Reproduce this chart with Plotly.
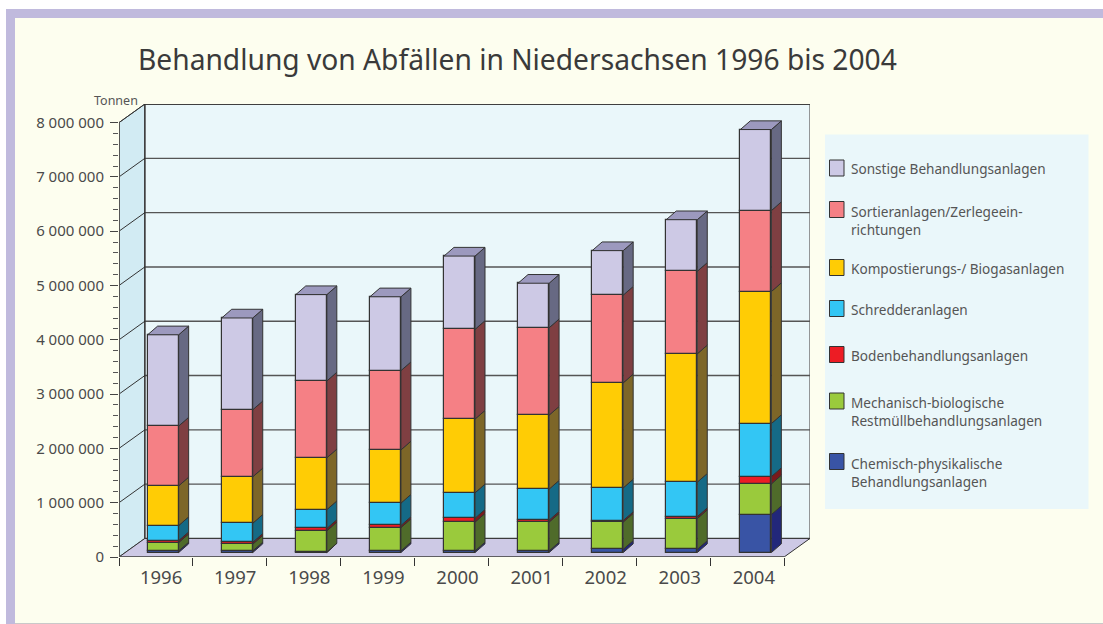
import plotly.graph_objects as go

years = ["1996", "1997", "1998", "1999", "2000", "2001", "2002", "2003", "2004"]
y_ticks = [0, 1000000, 2000000, 3000000, 4000000, 5000000, 6000000, 7000000, 8000000]
y_labels = ["0", "1 000 000", "2 000 000", "3 000 000", "4 000 000", "5 000 000", "6 000 000", "7 000 000", "8 000 000"]

chemisch = [30000, 30000, 10000, 30000, 30000, 30000, 60000, 60000, 700000]
mechanisch = [154000, 125000, 390000, 430000, 530000, 530000, 500000, 566000, 565000]
boden = [36000, 35000, 45000, 40000, 73000, 37000, 30000, 37000, 135000]
schredder = [277000, 350000, 345000, 410000, 467000, 571000, 600000, 633000, 976000]
kompost = [731000, 855000, 955000, 980000, 1357000, 1362000, 1935000, 2364000, 2431000]
sortier = [1102000, 1235000, 1415000, 1460000, 1653000, 1610000, 1615000, 1520000, 1491000]
sonstige = [1680000, 1690000, 1590000, 1360000, 1350000, 820000, 820000, 950000, 1492000]

names = ["Chemisch-physikalische<br>Behandlungsanlagen",
         "Mechanisch-biologische<br>Restmüllbehandlungsanlagen",
         "Bodenbehandlungsanlagen", "Schredderanlagen",
         "Kompostierungs-/ Biogasanlagen",
         "Sortieranlagen/Zerlegeein-<br>richtungen",
         "Sonstige Behandlungsanlagen"]
series = [chemisch, mechanisch, boden, schredder, kompost, sortier, sonstige]
front = ["#3954A5", "#9ACA3C", "#ED1C24", "#33C6F4", "#FFCC05", "#F58085", "#CDC9E5"]
side = ["#22277A", "#4F6B2A", "#7A1A1C", "#156A86", "#7D6628", "#7F3F42", "#676983"]
top_face = "#9C99BE"

W, H = 1103, 624
L, R, T, B = 119, 810, 104, 557
XMAX, YMAX = 9.35, (B - T) / 54.3 * 1e6
WX, WY = 0.35, 342000            # depth of the chart box
DX, DY = 0.135, 160000           # depth of one bar
BAR_W, SHIFT_X, SHIFT_Y, STEP = 0.42, 0.0974, 82000, 1.0025
EDGE = "#333333"

def px(v):
    return (v - L) / (R - L)

def py(v):
    return (B - v) / (B - T)

fig = go.Figure()
cum = [SHIFT_Y] * len(years)
centers = [i * STEP + 0.5 + SHIFT_X for i in range(len(years))]
for vals, name, fc, sc in zip(series, names, front, side):
    fig.add_trace(go.Bar(x=centers, y=vals, base=list(cum), width=BAR_W, name=name.replace("<br>", " "),
                         marker=dict(color=fc, line=dict(color=EDGE, width=1.2)), showlegend=False))
    sx, sy = [], []
    for c, lo, v in zip(centers, cum, vals):
        xr = c + BAR_W / 2
        sx += [xr, xr + DX, xr + DX, xr, xr, None]
        sy += [lo, lo + DY, lo + v + DY, lo + v, lo, None]
    fig.add_trace(go.Scatter(x=sx, y=sy, mode="lines", fill="toself", fillcolor=sc,
                             line=dict(color=EDGE, width=1), hoverinfo="skip", showlegend=False))
    cum = [a + b for a, b in zip(cum, vals)]

tx, ty = [], []
for c, t in zip(centers, cum):
    xl, xr = c - BAR_W / 2, c + BAR_W / 2
    tx += [xl, xl + DX, xr + DX, xr, xl, None]
    ty += [t, t + DY, t + DY, t, t, None]
fig.add_trace(go.Scatter(x=tx, y=ty, mode="lines", fill="toself", fillcolor=top_face,
                         line=dict(color=EDGE, width=1), hoverinfo="skip", showlegend=False))

shapes = []
def rect_px(x0, y0, x1, y1, color, line=None, lw=0, layer="below"):
    shapes.append(dict(type="rect", xref="paper", yref="paper", x0=px(x0), x1=px(x1), y0=py(y0), y1=py(y1),
                       fillcolor=color, line=dict(color=line or color, width=lw), layer=layer))

rect_px(6, 9, W, 18, "#C0BADD")
rect_px(6, 9, 15, 624, "#C0BADD")
rect_px(15, 18, W, 623, "#FDFEEF")
rect_px(15, 623, W, 624, "#C9C9C9")

ytop = y_ticks[-1]
shapes.append(dict(type="path", layer="below", xref="x", yref="y",
                   path=f"M 0 0 L {WX} {WY} L {WX} {ytop + WY} L 0 {ytop} Z",
                   fillcolor="#D2EBF3", line=dict(color="#444444", width=1)))
shapes.append(dict(type="rect", layer="below", xref="x", yref="y", x0=WX, x1=XMAX, y0=WY, y1=ytop + WY,
                   fillcolor="#EAF7FA", line=dict(color="#777777", width=1.5)))
shapes.append(dict(type="path", layer="below", xref="x", yref="y",
                   path=f"M 0 0 L 9 0 L {XMAX} {WY} L {WX} {WY} Z",
                   fillcolor="#CDC9E5", line=dict(color="#333333", width=1)))
for t in y_ticks[1:]:
    shapes.append(dict(type="line", layer="below", xref="x", yref="y", x0=WX, x1=XMAX, y0=t + WY, y1=t + WY,
                       line=dict(color="#555555", width=1.4)))
    shapes.append(dict(type="line", layer="below", xref="x", yref="y", x0=0, x1=WX, y0=t, y1=t + WY,
                       line=dict(color="#333333", width=1)))
shapes.append(dict(type="line", layer="below", xref="x", yref="y", x0=WX, x1=WX, y0=WY, y1=ytop + WY,
                   line=dict(color="#222222", width=1)))
shapes.append(dict(type="line", layer="below", xref="x", yref="y", x0=WX, x1=XMAX, y0=ytop + WY, y1=ytop + WY,
                   line=dict(color="#333333", width=1.4)))
shapes.append(dict(type="line", layer="above", xref="x", yref="y", x0=0, x1=9, y0=0, y1=0,
                   line=dict(color="#555555", width=1.6)))
shapes.append(dict(type="line", layer="above", xref="x", yref="y", x0=0, x1=0, y0=0, y1=ytop,
                   line=dict(color="#555555", width=2)))

# legend panel
rect_px(825, 134.5, 1088.5, 509, "#EAF7FA")
legend_rows = [(168.5, 160), (220, 201.5), (268.5, 259.5), (309.5, 300.5), (355.5, 346.5), (411.5, 393), (472, 453.5)]
anns = []
FONT = "Noto Sans"
for idx, (ty_, sy_) in zip(range(6, -1, -1), legend_rows):
    rect_px(829.5, sy_, 844, sy_ + 16, front[idx], line="#333333", lw=1, layer="above")
    anns.append(dict(x=px(848.5), y=py(ty_), xref="paper", yref="paper", xanchor="left", yanchor="middle",
                     align="left", showarrow=False, text=names[idx],
                     font=dict(family=FONT, size=13.6, color="#555555")))
anns.append(dict(x=px(136), y=py(59), xref="paper", yref="paper", xanchor="left", yanchor="middle", showarrow=False,
                 text="Behandlung von Abfällen in Niedersachsen 1996 bis 2004",
                 font=dict(family=FONT, size=28.2, color="#3a3a3a")))
anns.append(dict(x=px(140), y=py(101), xref="paper", yref="paper", xanchor="right", yanchor="middle", showarrow=False,
                 text="Tonnen", font=dict(family=FONT, size=12.5, color="#555555")))

fig.update_layout(
    width=W, height=H, margin=dict(l=L, r=W - R, t=T, b=H - B, autoexpand=False),
    paper_bgcolor="white", plot_bgcolor="rgba(0,0,0,0)", barmode="overlay", bargap=0,
    showlegend=False, shapes=shapes, annotations=anns,
    xaxis=dict(range=[0, XMAX], showgrid=False, zeroline=False, showline=False,
               tickmode="array", tickvals=[i * STEP + 0.57 for i in range(len(years))], ticktext=years,
               ticks="outside", ticklen=3, tickcolor="rgba(0,0,0,0)", ticklabelstandoff=1,
               tickfont=dict(family=FONT, size=18.5, color="#4a4a4a"),
               minor=dict(tickmode="array", tickvals=list(range(10)), ticks="outside", ticklen=8,
                          tickcolor="#333333", tickwidth=1.2)),
    yaxis=dict(range=[0, YMAX], showgrid=False, zeroline=False, showline=False,
               tickmode="array", tickvals=y_ticks, ticktext=y_labels,
               ticks="outside", ticklen=8, tickcolor="#444444", tickwidth=1.2, ticklabelstandoff=3,
               tickfont=dict(family=FONT, size=15, color="#4a4a4a"),
               minor=dict(tickmode="array", tickvals=[v * 200000 for v in range(41) if v % 5], ticks="outside", ticklen=5,
                          tickcolor="#555555", tickwidth=1.2)),
)
fig.write_html("out.html", config={"displayModeBar": False}, post_script="document.body.style.margin='0';")
